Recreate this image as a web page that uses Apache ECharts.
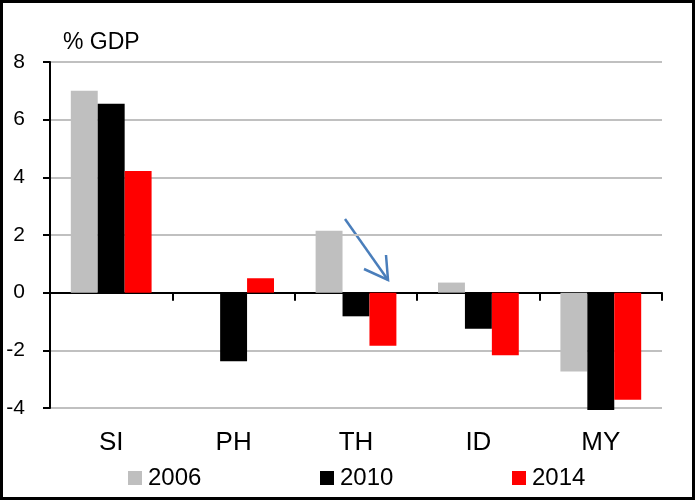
<!DOCTYPE html>
<html>
<head>
<meta charset="utf-8">
<script src="https://cdn.jsdelivr.net/npm/echarts@6/dist/echarts.min.js"></script>
<style>
  html, body { margin: 0; padding: 0; background: #fff; }
  #chart { position: absolute; left: 0; top: 0; width: 698px; height: 501px; }
  #frame {
    position: absolute; left: 0; top: 0; width: 695px; height: 500px;
    border: 3px solid #000; box-sizing: border-box; pointer-events: none;
  }
</style>
</head>
<body>
<div id="chart"></div>
<div id="frame"></div>
<script>
// 数据
const categories = ['SI', 'PH', 'TH', 'ID', 'MY'];
const seriesNames = ['2006', '2010', '2014'];
const values2006 = [7.0, 0, 2.15, 0.35, -2.73];
const values2010 = [6.55, -2.38, -0.82, -1.25, -4.07];
const values2014 = [4.22, 0.5, -1.84, -2.17, -3.71];
const yTicks = [-4, -2, 0, 2, 4, 6, 8];

const colors = ['#bfbfbf', '#000000', '#ff0000'];
const legendLeft = [123, 315, 507];
const font = '"Liberation Sans", Arial, sans-serif';

const chart = echarts.init(document.getElementById('chart'));

const makeSeries = (name, data, i) => ({
  name: name,
  type: 'bar',
  data: data,
  xAxisIndex: 0,
  barGap: 0,
  barCategoryGap: '34%',
  clip: false,
  itemStyle: { color: colors[i] },
  emphasis: { disabled: true }
});

// 每个图例单独放置，位置对齐原图
const legends = seriesNames.map((name, i) => ({
  data: [name],
  left: legendLeft[i],
  top: 461,
  itemWidth: 14,
  itemHeight: 14,
  itemGap: 6,
  icon: 'rect',
  textStyle: { fontFamily: font, fontSize: 24, color: '#000', padding: [0, 0, 0, 1] }
}));

chart.setOption({
  animation: false,
  textStyle: { fontFamily: font },
  title: {
    text: '% GDP',
    left: 58,
    top: 26,
    textStyle: { fontFamily: font, fontSize: 23, fontWeight: 'normal', color: '#000' }
  },
  grid: { left: 50, right: 36, top: 62, bottom: 93, containLabel: false },
  legend: legends,
  xAxis: [
    {
      type: 'category',
      data: categories,
      position: 'bottom',
      axisLine: { show: false, onZero: false },
      axisTick: { show: false },
      axisLabel: { fontSize: 26, color: '#000', margin: 22, fontFamily: font }
    },
    {
      type: 'category',
      data: categories,
      position: 'bottom',
      axisLine: { show: true, onZero: true, lineStyle: { color: '#000', width: 2 } },
      axisTick: { show: true, length: 8, lineStyle: { color: '#000', width: 2 } },
      axisLabel: { show: false }
    }
  ],
  yAxis: {
    type: 'value',
    min: yTicks[0],
    max: yTicks[yTicks.length - 1],
    interval: 2,
    axisLine: { show: true, lineStyle: { color: '#000', width: 2 } },
    axisTick: { show: true, length: 7, lineStyle: { color: '#000', width: 2 } },
    axisLabel: { fontSize: 21, color: '#000', margin: 25, fontFamily: font },
    splitLine: { show: true, lineStyle: { color: '#c0c0c0', width: 2 } }
  },
  series: [
    makeSeries(seriesNames[0], values2006, 0),
    makeSeries(seriesNames[1], values2010, 1),
    makeSeries(seriesNames[2], values2014, 2)
  ],
  graphic: [
    {
      type: 'line',
      shape: { x1: 345, y1: 219, x2: 388, y2: 280 },
      style: { stroke: '#4a7ebb', lineWidth: 2.5 }
    },
    {
      type: 'polyline',
      shape: { points: [[364, 269], [388, 280], [386, 255]] },
      style: { stroke: '#4a7ebb', lineWidth: 2.5, fill: null }
    }
  ]
});
</script>
</body>
</html>
